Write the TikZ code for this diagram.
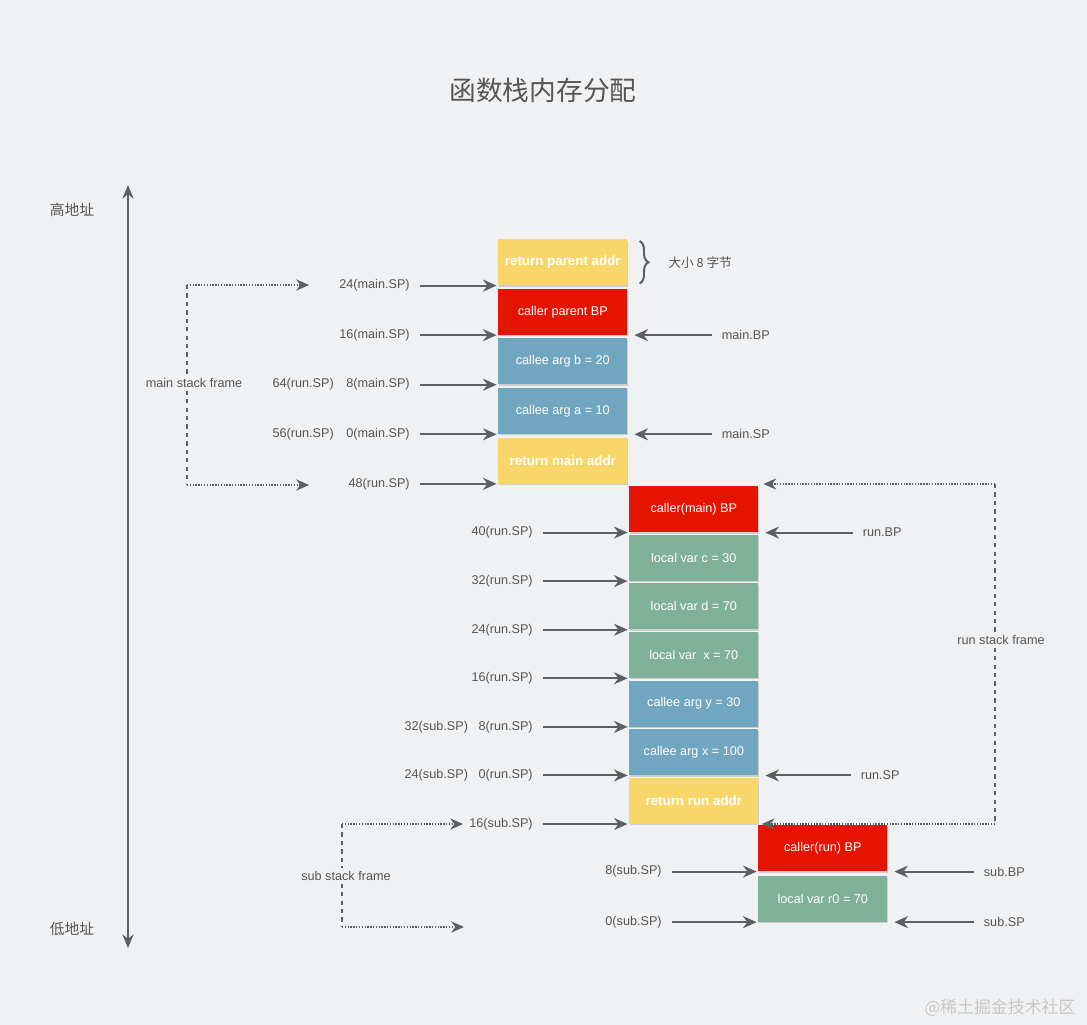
\documentclass[tikz,border=0pt]{standalone}
\usepackage{fontspec}
\setmainfont{Liberation Sans}
\newfontfamily\cjk{Noto Sans CJK SC}
\usetikzlibrary{positioning, arrows.meta, decorations.pathreplacing, shadows}

\definecolor{pagebg}{HTML}{F0F1F3}
\definecolor{slotyellow}{HTML}{F9D66A}
\definecolor{slotred}{HTML}{E51400}
\definecolor{slotblue}{HTML}{71A6C0}
\definecolor{slotgreen}{HTML}{7FB09A}
\definecolor{linegray}{HTML}{5C5F66}
\definecolor{labelgray}{HTML}{555555}

\tikzset{
  slot/.style={minimum width=3.225cm, minimum height=1.15cm, inner sep=0pt, text=white,
    font=\fontsize{9}{11}\selectfont,
    drop shadow={shadow xshift=0.5pt, shadow yshift=-1pt, opacity=0.3}},
  retslot/.style={slot, fill=slotyellow, font=\fontsize{9.5}{11}\selectfont\bfseries},
  bpslot/.style={slot, fill=slotred},
  argslot/.style={slot, fill=slotblue},
  varslot/.style={slot, fill=slotgreen}
}
\tikzset{
  addr/.style={font=\fontsize{9}{11}\selectfont, text=labelgray, inner sep=0pt},
  framelabel/.style={font=\fontsize{9}{11}\selectfont, text=labelgray, inner sep=2pt}
}
\tikzset{
  ptr/.style={draw=linegray, line width=1.4pt, -{Stealth[length=0.34cm, width=0.3cm]}},
  framedash/.style={draw=linegray, line width=1.5pt, dash pattern=on 3pt off 3pt},
  framedot/.style={draw=linegray, line width=1.4pt, dash pattern=on 1pt off 1pt,
    -{Stealth[length=0.32cm, width=0.28cm]}}
}

\begin{document}
\begin{tikzpicture}[x=0.025cm, y=-0.025cm]
  \useasboundingbox[fill=pagebg] (0,0) rectangle (1087,1025);
  \node[font=\cjk\fontsize{19}{23}\selectfont, text=labelgray] (title) at (543,90) {函数栈内存分配};

  % address axis
  \coordinate (hiaddr) at (128,185);
  \coordinate (loaddr) at (128,948);
  \draw[line width=1.4pt, draw=linegray, {Stealth[length=0.34cm, width=0.28cm]}-{Stealth[length=0.34cm, width=0.28cm]}] (loaddr) -- (hiaddr);
  \node[font=\cjk\fontsize{10.5}{13}\selectfont, text=labelgray] (hilabel) at (72,210) {高地址};
  \node[font=\cjk\fontsize{10.5}{13}\selectfont, text=labelgray] (lolabel) at (72,929) {低地址};

  % main frame slots
  \node[retslot, anchor=north west] (rpa) at (498,239) {return parent addr};
  \node[bpslot, below=0.075cm of rpa] (cpb) {caller parent BP};
  \node[argslot, below=0.075cm of cpb] (cab) {callee arg b = 20};
  \node[argslot, below=0.075cm of cab] (caa) {callee arg a = 10};
  \node[retslot, below=0.075cm of caa] (rma) {return main addr};

  % run frame slots
  \node[bpslot, anchor=north west] (cmb) at (629,486) {caller(main) BP};
  \node[varslot, below=0.05cm of cmb] (lvc) {local var c = 30};
  \node[varslot, below=0.05cm of lvc] (lvd) {local var d = 70};
  \node[varslot, below=0.05cm of lvd] (lvx) {local var\ \ x = 70};
  \node[argslot, below=0.05cm of lvx] (cay) {callee arg y = 30};
  \node[argslot, below=0.05cm of cay] (cax) {callee arg x = 100};
  \node[retslot, below=0.05cm of cax] (rra) {return run addr};

  % sub frame slots
  \node[bpslot, anchor=north west] (crb) at (758,825) {caller(run) BP};
  \node[varslot, below=0.1cm of crb] (lvr) {local var r0 = 70};

  % size of one slot
  \draw[draw=linegray, line width=1.4pt, decorate, decoration={brace, amplitude=0.22cm}]
    ([xshift=0.3cm, yshift=-0.05cm]rpa.north east) -- ([xshift=0.3cm, yshift=0.05cm]rpa.south east);
  \node[font=\cjk\fontsize{9}{11}\selectfont, text=labelgray, anchor=west] (size8) at ([xshift=0.9cm]rpa.east) {大小 8 字节};

  % offsets on the left
  \node[addr, left=2.2cm of rpa.south west] (m24) {24(main.SP)};
  \node[addr, left=2.2cm of cpb.south west] (m16) {16(main.SP)};
  \node[addr, left=2.2cm of cab.south west] (m8) {8(main.SP)};
  \node[addr, left=0.3cm of m8] (r64) {64(run.SP)};
  \node[addr, left=2.2cm of caa.south west] (m0) {0(main.SP)};
  \node[addr, left=0.3cm of m0] (r56) {56(run.SP)};
  \node[addr, left=2.2cm of rma.south west] (r48) {48(run.SP)};
  \node[addr, left=2.4cm of cmb.south west] (r40) {40(run.SP)};
  \node[addr, left=2.4cm of lvc.south west] (r32) {32(run.SP)};
  \node[addr, left=2.4cm of lvd.south west] (r24) {24(run.SP)};
  \node[addr, left=2.4cm of lvx.south west] (r16) {16(run.SP)};
  \node[addr, left=2.4cm of cay.south west] (r8) {8(run.SP)};
  \node[addr, left=0.25cm of r8] (s32) {32(sub.SP)};
  \node[addr, left=2.4cm of cax.south west] (r0) {0(run.SP)};
  \node[addr, left=0.25cm of r0] (s24) {24(sub.SP)};
  \node[addr, left=2.4cm of rra.south west] (s16) {16(sub.SP)};
  \node[addr, left=2.4cm of crb.south west] (s8) {8(sub.SP)};
  \node[addr, left=2.4cm of lvr.south west] (s0) {0(sub.SP)};
  \foreach \lbl/\slt in {m24/rpa, m16/cpb, m8/cab, m0/caa, r48/rma, r40/cmb, r32/lvc, r24/lvd,
      r16/lvx, r8/cay, r0/cax, s16/rra, s8/crb, s0/lvr}
    \draw[ptr] ([xshift=0.25cm]\lbl.east) -- ([xshift=-1pt]\slt.south west);

  % base and stack pointers on the right
  \node[addr, right=2.35cm of cpb.south east] (mbp) {main.BP};
  \node[addr, right=2.35cm of caa.south east] (msp) {main.SP};
  \node[addr, right=2.6cm of cmb.south east] (rbp) {run.BP};
  \node[addr, right=2.55cm of cax.south east] (rsp) {run.SP};
  \node[addr, right=2.4cm of crb.south east] (sbp) {sub.BP};
  \node[addr, right=2.4cm of lvr.south east] (ssp) {sub.SP};
  \foreach \lbl/\slt in {mbp/cpb, msp/caa, rbp/cmb, rsp/cax, sbp/crb, ssp/lvr}
    \draw[ptr] ([xshift=-0.25cm]\lbl.west) -- ([xshift=0.17cm]\slt.south east);

  % main stack frame
  \node[framelabel] (mframe) at (194,383) {main stack frame};
  \coordinate (mtop) at (187,285);
  \coordinate (mbot) at (187,485);
  \coordinate (mtopend) at (309,285);
  \coordinate (mbotend) at (309,485);
  \draw[framedash] (mtop) -- (mtop |- mframe.north);
  \draw[framedash] (mbot |- mframe.south) -- (mbot);
  \draw[framedot] (mtop) -- (mtopend);
  \draw[framedot] (mbot) -- (mbotend);

  % run stack frame
  \node[framelabel] (rframe) at (1001,640) {run stack frame};
  \coordinate (rtop) at (995,484);
  \coordinate (rbot) at ([xshift=-0.15cm]rframe.center |- rra.south);
  \draw[framedash] (rtop) -- (rtop |- rframe.north);
  \draw[framedash] (rbot |- rframe.south) -- (rbot);
  \draw[framedot] (rtop) -- ([xshift=0.12cm]rtop -| cmb.east);
  \draw[framedot] (rbot) -- ([xshift=0.08cm]rra.south east);

  % sub stack frame
  \node[framelabel] (sframe) at (346,876) {sub stack frame};
  \coordinate (stop) at ([xshift=-0.1cm]s16.west -| sframe.center);
  \coordinate (sbot) at (342,927);
  \coordinate (sbotend) at (464,927);
  \draw[framedash] (stop) -- (stop |- sframe.north);
  \draw[framedash] (sbot |- sframe.south) -- (sbot);
  \draw[framedot] (stop) -- ([xshift=-0.15cm]s16.west);
  \draw[framedot] (sbot) -- (sbotend);

  \node[font=\cjk\fontsize{12}{14}\selectfont, text=black!22] (mark) at (1000,1008) {@稀土掘金技术社区};
\end{tikzpicture}
\end{document}
